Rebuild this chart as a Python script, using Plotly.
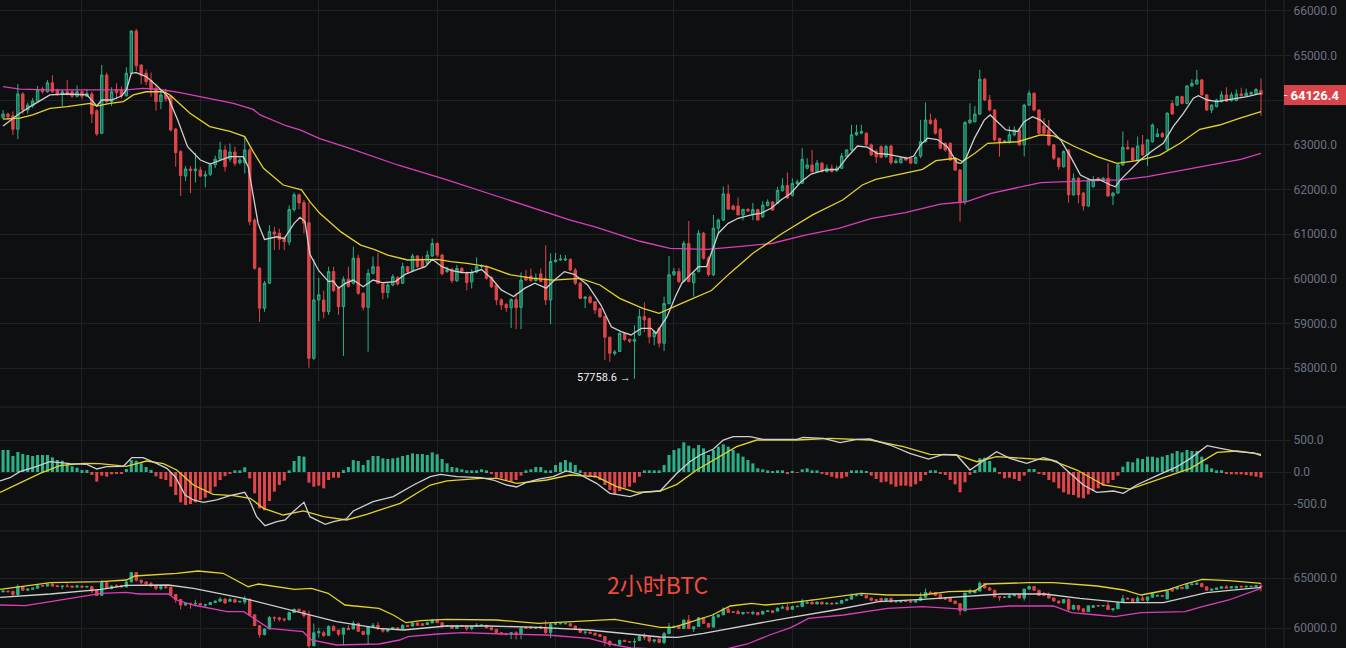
import plotly.graph_objects as go

# ---------------- data (2h BTC candles) ----------------
opens = [63610,63690,63650,63350,64140,63780,63880,63980,64250,64190,64390,64230,64140,64190,64190,64090,64190,64090,64140,63765,
 63260,64565,63970,64230,64230,64100,64605,65550,64790,64605,64440,64265,63970,64120,64095,63355,62850,62300,62460,62420,
 62435,62300,62340,62550,62680,62885,62680,62840,62600,62600,62885,61315,60235,59340,59900,61050,61020,60910,60825,61550,
 61880,61704,61254,58217,59525,59525,59262,60160,59790,59375,59985,59900,60460,59675,59360,60120,60270,59880,59690,59860,
 60020,59900,60270,60190,60510,60420,60345,60510,60790,60530,60160,60210,59955,60230,60140,59930,60150,60270,60270,60030,
 59860,59530,59420,59350,59530,59360,60040,60060,59960,60110,60010,59525,60385,60420,60420,60430,60195,59900,59560,59590,
 59485,59330,59150,58690,58330,58370,58775,58640,58600,58740,59150,59110,58700,58890,58555,59445,60090,60160,59940,60790,
 59910,60160,61020,60460,60090,61130,61315,61900,61630,61630,61430,61555,61440,61550,61390,61640,61720,61690,61975,62090,
 61870,62130,62140,62475,62550,62400,62590,62400,62480,62420,62475,62735,62885,63225,63260,63260,63000,62850,62960,62735,
 62975,62600,62600,62700,62700,62590,62750,63070,63555,63555,63350,63035,63035,62700,62435,61725,63495,63520,63690,64470,
 64005,63780,63145,63070,63050,63225,63335,63000,63890,64155,63780,63420,63335,63000,62700,62510,62885,61880,62250,61920,
 61630,62065,62250,62200,62250,61855,61920,62550,62945,62925,62660,63000,62775,63070,63185,63250,62905,63930,63890,64080,
 63930,64320,64365,64455,64120,63780,63855,63970,64120,63990,63995,64140,64100,64140,64150,64215]
highs = [63780,63720,63750,64360,64180,63950,64050,64320,64300,64450,64560,64260,64230,64450,64230,64330,64220,64250,64190,63800,
 64790,64620,64290,64380,64310,64740,65570,65600,64800,64690,64620,64330,64230,64260,64110,63380,62880,62530,62520,62820,
 62500,62420,62600,62760,63070,62990,63030,62960,62720,63185,62930,61350,60260,59950,61200,61165,61120,60950,61640,61930,
 61910,61765,61727,60442,60020,59735,60270,60270,59830,60050,60270,60720,60540,59700,60220,60500,60580,59900,59900,60100,
 60060,60360,60290,60560,60530,60500,60630,60905,60820,60560,60270,60240,60310,60260,60160,60210,60480,60320,60300,60060,
 59880,59560,59460,59560,59680,60140,60200,60230,60120,60230,60750,60570,60580,60540,60530,60460,60240,59920,59610,59630,
 59500,59350,59170,58700,58400,58800,58800,58660,58960,59320,59470,59130,58850,58920,59600,60510,60240,60240,60850,61295,
 60160,61090,61050,60500,61430,61350,62065,62110,61660,61820,61560,61580,61700,61570,61740,61780,61740,62060,62250,62380,
 62250,62220,62925,62700,62885,62660,62620,62560,62560,62540,62820,62900,63450,63450,63450,63280,63030,62900,62990,63000,
 63000,62700,62740,62740,62720,62760,63560,63950,63700,63600,63380,63050,63060,62720,62460,63530,63930,63870,64680,64500,
 64120,63800,63160,63110,63420,63410,63380,63920,64220,64180,63800,63600,63560,63020,62720,62880,62900,62360,62280,61950,
 62250,62300,62280,62280,62590,61950,62580,63300,63100,62950,63185,63220,63130,63480,63370,63290,63730,64000,64100,64100,
 64340,64470,64680,64480,64140,63910,64030,64200,64290,64180,64240,64280,64260,64200,64270,64490]
lows = [63580,63560,63220,63130,63690,63700,63830,63960,64150,64170,64170,64100,63870,64110,64050,64060,64020,64070,63490,63205,
 63240,63920,63870,64020,64040,64080,64580,64650,64365,64340,64080,63765,63800,63970,63300,62510,61855,62190,61920,62160,
 62280,62050,62300,62480,62650,62400,62620,62520,62560,62360,61200,60200,59035,59260,59880,60645,60650,60640,60750,61500,
 61560,61020,58006,58180,59050,59110,59190,59700,59190,58270,59800,59870,59640,59290,58365,60100,59880,59540,59560,59830,
 59850,59880,60130,60170,60240,60250,60320,60490,60480,60080,60130,59900,59930,60120,59740,59780,60120,60230,59980,59790,
 59410,59300,59260,58895,58870,58870,59950,59930,59940,59920,59410,58980,60360,60400,60400,60170,59860,59540,59340,59440,
 59210,59120,58180,58140,58280,58360,58600,58560,57758.6,58720,58800,58550,58510,58460,58380,59420,60060,59900,59920,59920,
 59600,60140,60430,60050,60060,61000,61290,61540,61530,61420,61310,61490,61310,61310,61360,61620,61520,61670,61950,61790,
 61840,62100,62120,62450,62380,62370,62380,62380,62380,62390,62460,62730,62870,63200,63240,62980,62750,62590,62700,62710,
 62560,62580,62580,62640,62570,62570,62700,63050,63450,63230,62900,62850,62640,62410,61280,61660,63470,63500,63670,63980,
 63750,63080,62735,63040,63030,63190,62970,62740,63870,63750,63230,63220,62970,62660,62440,62490,61705,61860,61690,61530,
 61610,62040,62180,62180,61830,61650,61900,62530,62890,62640,62640,62750,62525,63050,63170,63160,62880,63680,63870,63910,
 63910,64300,64350,64100,63760,63710,63840,63950,63960,63970,63980,64080,64090,64120,64130,63650]
closes = [63690,63630,63350,64140,63780,63890,63980,64230,64190,64390,64190,64140,64190,64140,64090,64190,64090,64150,63690,63245,
 64565,63970,64190,64170,64100,64605,65550,64770,64565,64415,64245,63970,64120,64030,63335,62825,62310,62460,62420,62460,
 62300,62330,62550,62680,62885,62510,62840,62585,62660,62885,61280,60235,59340,59900,61055,61000,60880,60830,61550,61880,
 61700,61242,58217,59525,59640,59262,60160,59735,59375,59985,59830,60460,59675,59360,60120,60270,59900,59690,59860,60045,
 59880,60270,60160,60510,60270,60270,60530,60790,60530,60110,60200,59955,60230,60160,59915,60150,60270,60300,60010,59820,
 59525,59410,59350,59530,59350,59970,59970,59960,60020,59940,59525,60385,60420,60440,60440,60195,59900,59560,59590,59470,
 59300,59150,58690,58330,58360,58775,58640,58600,58640,59150,59080,58700,58810,58555,59445,60090,60160,59940,60790,59940,
 60120,61020,60460,60090,61130,61315,61900,61560,61555,61430,61555,61520,61550,61315,61650,61720,61540,61975,62080,61815,
 62135,62170,62675,62550,62400,62590,62400,62480,62400,62480,62750,62885,63225,63280,63300,63000,62775,62735,62720,62960,
 62600,62640,62700,62660,62590,62720,63070,63555,63480,63260,62925,62885,62660,62435,61725,63500,63555,63690,64470,64005,
 63780,63110,63070,63080,63225,63335,63000,63890,64155,63780,63260,63260,63000,62700,62510,62850,61880,62250,61880,61630,
 62215,62215,62200,62250,61855,61920,62550,62945,62910,62660,62975,62775,63110,63445,63245,63180,63710,63690,64080,63930,
 64320,64380,64455,64120,63780,63890,64005,64120,63980,64120,64140,64100,64160,64170,64240,64126.4]
candle_idx = list(range(len(closes)))

# moving averages on the price panel (candle index, value)
ma_fast_x = [0,2,3.4,6,9.5,13,17,19,20,22,24,25,26,27,29,31,33.4,35.4,37.4,40,42,46,48.7,49.7,50.7,51.7,53,55.5,57,59,60.2,61.2,62.2,64,66,
 66.9,68,69.5,71,73,75,77,79.5,81.6,83.6,85.6,87,89,91,93,95,97,99,101,103.5,105.8,107.8,110.1,111.8,113.8,115.8,118.5,121.2,123.3,125.3,
 127.3,129.4,131.4,132.4,133.4,134.6,136.3,137.6,139.6,141,142.6,145,147,149,151.7,153.7,155.7,157.7,159.7,161.8,163.8,166.5,169.2,171.2,
 173.2,175.2,177.2,179.2,181.2,183.3,184.6,186,187.4,189.4,191.4,193.4,194.2,195.2,196.9,198.9,200.1,201.6,203.3,205.7,207,208.7,210.3,
 212.4,214.4,216.4,218.4,220.4,222.4,224.5,225.5,226.5,228.5,230.5,233.2,235.2,237.2,239.3,241.3,242.3,244.1,246.1,248.8,252.2,255]
ma_fast_y = [63423,63580,63710,63890,64120,64140,64120,63870,64005,64005,64095,64230,64605,64620,64530,64340,64080,63555,62960,62660,62570,
 62735,62735,62510,61905,61240,60880,60940,60900,61240,61375,61280,60550,60180,59935,59950,59790,59900,59970,59820,59970,59910,59935,
 60105,60195,60270,60435,60270,60180,60140,60135,60205,60010,59750,59600,59790,59900,59790,59970,60160,60100,59860,59410,58925,58815,
 58740,58890,58890,58775,58950,59150,59600,59900,60120,60270,60270,61020,61240,61355,61430,61470,61580,61765,61915,62175,62345,62435,
 62450,62735,62975,62950,62810,62790,62750,62700,62750,63000,63150,63120,62960,62600,62585,62700,63145,63555,63670,63520,63335,63300,
 63520,63630,63555,63335,63110,62735,62325,62215,62215,62100,62060,62215,62435,62660,62885,63035,63410,63710,64045,64100,64005,63970,
 64020,64080,64155]
ma_mid_x = [0,3.4,6,9.5,13,17.6,19,21.7,24.4,26.4,29,32.5,33.8,37.9,41.9,46,49,50.7,52.8,56.8,60.5,62.2,64.2,66,68.5,72.5,75.2,78,82,88,
 90.8,94.1,98.2,102.9,107.6,111.6,117,121,125,129.7,133,137.9,140.9,143.6,147.3,152,158,164.1,170.2,174.2,176.9,183.7,186.4,189.1,
 193.1,194.5,197,199.6,205.7,210.3,213,217,221.8,225.8,230.5,234.5,238.6,242.6,246.6,250.6,255]
ma_mid_y = [63575,63600,63670,63820,63855,63930,63870,63930,63970,64120,64190,64190,64120,63710,63410,63300,63185,62850,62475,62100,
 61990,61727,61465,61300,61050,60755,60660,60530,60420,60435,60385,60345,60270,60085,60010,59970,60010,59860,59560,59335,59225,59465,
 59600,59735,60120,60570,61020,61430,61765,62100,62225,62375,62450,62645,62700,62625,62810,63035,63070,63225,63200,62975,62735,62585,
 62660,62770,63035,63350,63445,63595,63745]
ma_slow_x = [0,3.4,9.5,15.6,25,28.4,31.8,35.9,40,43.3,46.7,50.7,52.1,57.5,60.2,64.2,70,80,90,100,110,115,120,127,129.1,135.2,142.7,
 149.1,155.8,162.6,169.4,176.1,182.9,190,195.2,200.3,210.4,220.5,226.6,232,237.4,244.1,250.9,255]
ma_slow_y = [64305,64250,64230,64230,64230,64265,64240,64170,64080,64005,63930,63795,63670,63423,63335,63140,62930,62549,62213,61854,
 61496,61316,61160,60913,60840,60680,60660,60720,60790,60980,61130,61355,61480,61670,61725,61915,62155,62200,62215,62290,62400,62550,
 62675,62810]

# MACD panel
dif_x = [-0.6,1.4,3.4,6.1,9.5,13.6,17,19,21,24.4,26.1,28.4,31.1,33.2,34.9,36.9,38.6,40.6,43.3,46,49,50.1,51.4,53.1,55.5,57.2,58.8,61,
 62.2,65.3,67,69.6,71,75,79.1,83.2,86.6,88.7,92,96.8,99.4,102.1,104.1,106.1,108.8,111.5,114.2,116.9,120.3,123,127.1,129.8,133.2,136.6,
 139.2,141.3,144,146,148,151.4,154.1,160.9,162.2,166.3,169.7,173.1,175.7,179.8,183.8,187.6,190.6,193.3,196,198.7,201.4,204.1,207.5,
 210.9,213.6,216.3,219,221.7,225.1,227.1,229.8,233.9,238,240.7,244.1,246.8,250.2,253.6,255]
dif_y = [-140,-89,5,68,161,130,120,47,83,89,224,224,135,57,-73,-359,-437,-474,-437,-370,-318,-464,-698,-839,-776,-750,-620,-474,-698,
 -818,-776,-734,-609,-464,-385,-203,-73,-36,-73,-89,-125,-203,-234,-161,-109,-73,16,-36,-177,-333,-385,-318,-297,-20,161,266,359,500,
 552,552,510,510,542,526,458,510,516,422,292,203,276,266,31,172,318,213,135,224,166,-20,-203,-318,-297,-333,-203,-57,83,213,411,370,
 318,300,255]
dea_x = [-0.6,3.4,7.5,11.5,16.3,19.6,25,29.1,32.5,35.2,38.6,42.6,46.7,50.1,52.8,56.8,60.9,65,69.6,73.7,80.5,86.6,90,96.8,100.2,104.1,
 110.2,114.9,120.3,124.4,128.4,133.2,136.6,140.6,144.7,148.7,152.8,160.9,167.7,175.8,182.5,187.9,193.3,197.4,201.4,206.8,212.3,217.7,
 223.1,228.5,233.9,240.7,246.1,250.2,255]
dea_y = [-318,-177,-20,99,135,130,89,172,130,31,-203,-349,-370,-411,-568,-672,-609,-698,-750,-661,-489,-203,-140,-99,-99,-177,-125,-47,
 -73,-229,-318,-297,-193,31,213,396,500,500,526,500,396,276,266,161,240,213,188,31,-203,-266,-125,57,307,328,276]
macd_hist = [344,344,250,312,281,266,250,266,266,266,229,187,177,135,89,68,31,31,-47,-151,-57,-73,-36,-21,-21,47,187,177,135,78,31,-68,
 -109,-125,-229,-359,-474,-516,-500,-474,-437,-401,-318,-229,-125,-63,-31,26,26,73,-99,-333,-568,-599,-453,-307,-203,-135,26,172,250,
 240,-167,-229,-214,-255,-125,-89,-89,31,78,187,172,109,187,250,250,214,203,214,224,250,266,292,281,281,266,307,276,203,135,78,68,42,
 26,26,26,42,26,-31,-89,-99,-125,-151,-125,-57,26,42,78,78,26,26,109,151,187,151,109,26,-47,-73,-89,-125,-203,-281,-349,-297,-245,
 -229,-167,-73,26,26,26,26,109,266,344,370,464,411,370,422,370,266,344,396,432,396,344,292,240,187,135,57,42,26,16,26,26,-21,16,-10,
 42,57,26,26,-26,-47,-73,-99,-99,-73,26,26,26,16,-57,-109,-161,-151,-193,-229,-214,-214,-229,-193,-141,-47,26,26,-21,-47,-125,-193,
 -318,-161,-47,31,214,224,172,68,-21,-99,-89,-109,-141,-57,47,47,-21,-47,-125,-161,-255,-318,-349,-359,-401,-411,-349,-297,-255,-214,
 -177,-125,-57,83,161,151,214,203,240,240,224,240,266,292,328,307,344,328,328,240,120,57,26,26,-21,-36,-36,-36,-47,-57,-73,-89]

# Bollinger bands on the lower panel
boll_up_x = [-0.6,9.6,19.9,25,26.7,35.2,39.5,44.6,49.7,51.8,59.1,62.5,65.9,69.3,76.2,79.1,81.7,84.7,89.8,100,108.6,115.4,124,133.2,
 135.9,138.5,143.8,147.4,151.8,154.5,159.8,165.1,174,179.3,186.4,191.7,197,199.2,207.7,213,216.6,221.8,227.2,230.7,236,239.6,243.1,
 248.5,255]
boll_up_y = [63870,64530,64630,64800,65200,65470,65700,65470,64130,64400,63870,63970,63470,62300,61970,61300,60530,60730,60870,60800,
 60470,60630,60870,60070,60070,60470,61300,62200,62470,62300,62530,62870,63470,63300,63300,63630,63700,64400,64530,64530,64400,64200,
 63800,63300,63800,64400,64870,64730,64470]
boll_mid_x = [-0.6,9.6,19.9,25,33.5,38.6,48.8,59.1,67.6,76.2,81.2,89.8,98.3,108.6,118.8,133.2,136.7,142,150.9,159.8,168.6,177.5,186.4,
 195.3,202.3,211.2,218.3,227.2,235.2,244,255]
boll_mid_y = [63070,63400,63870,64270,64300,63970,62970,61730,60630,59970,59800,60200,60200,60070,59800,59100,59070,59470,60300,61070,
 61800,62630,62870,63200,63400,63400,62970,62530,62530,63530,64070]
boll_low_x = [-0.6,4.5,9.6,19.9,25,27.5,33.5,35.2,38.6,45.4,48.8,52.2,53.9,60.8,62.5,67.6,76.2,80.4,82.1,88.1,93.2,101.6,110.3,118.8,124,
 127.3,133.2,146.5,150.9,155.4,159.8,163.3,170.4,179.3,186.4,195.3,204.1,212.9,216.6,221.8,225.4,230.7,239.6,243.1,248.5,255]
boll_low_y = [62300,62230,62630,63470,63570,63400,63400,62800,62300,61630,61630,60470,59970,59630,58800,58300,58400,58800,59130,59400,
 59530,59400,59300,58970,58300,58000,57900,57900,58400,59300,60070,60970,61300,61970,62130,61870,62200,62200,61530,61300,61130,61530,
 61630,62130,62800,63970]

price_ticks = [58000, 59000, 60000, 61000, 62000, 63000, 64000, 65000, 66000]
macd_ticks = [-500, 0, 500]
boll_ticks = [60000, 65000]
last_price = 64126.4
low_price = 57758.6
low_idx = 128
watermark = "2小时BTC"

# ---------------- styling ----------------
BG = "#0e0f11"
GRID = "#1f2125"
GREEN = "#2bb089"
GREEN_FILL = "#1d6e57"
RED = "#de4648"
WHITE_MA = "#cfcfcf"
YELLOW = "#e3d12c"
MAGENTA = "#d93fb8"
TICK = "#687282"
FONT = "Roboto"

fig = go.Figure()

fig.add_trace(go.Candlestick(
    x=candle_idx, open=opens, high=highs, low=lows, close=closes,
    increasing=dict(line=dict(color=GREEN, width=1), fillcolor=GREEN_FILL),
    decreasing=dict(line=dict(color=RED, width=1), fillcolor=RED),
    whiskerwidth=0, hoverinfo="skip", xaxis="x", yaxis="y", showlegend=False))

for xs, ys, col in [(ma_slow_x, ma_slow_y, MAGENTA), (ma_mid_x, ma_mid_y, YELLOW), (ma_fast_x, ma_fast_y, WHITE_MA)]:
    fig.add_trace(go.Scatter(x=xs, y=ys, mode="lines", line=dict(color=col, width=1.3),
                             hoverinfo="skip", xaxis="x", yaxis="y", showlegend=False))

# MACD
bar_colors = [GREEN if v >= 0 else RED for v in macd_hist]
fig.add_trace(go.Bar(x=candle_idx, y=macd_hist, marker=dict(color=bar_colors, line=dict(width=0)),
                     hoverinfo="skip", xaxis="x", yaxis="y2", showlegend=False))
fig.add_trace(go.Scatter(x=dea_x, y=dea_y, mode="lines", line=dict(color=YELLOW, width=1.3),
                         hoverinfo="skip", xaxis="x", yaxis="y2", showlegend=False))
fig.add_trace(go.Scatter(x=dif_x, y=dif_y, mode="lines", line=dict(color=WHITE_MA, width=1.3),
                         hoverinfo="skip", xaxis="x", yaxis="y2", showlegend=False))

# lower panel
fig.add_trace(go.Candlestick(
    x=candle_idx, open=opens, high=highs, low=lows, close=closes,
    increasing=dict(line=dict(color=GREEN, width=1), fillcolor=GREEN),
    decreasing=dict(line=dict(color=RED, width=1), fillcolor=RED),
    whiskerwidth=0, hoverinfo="skip", xaxis="x", yaxis="y3", showlegend=False))
for xs, ys, col in [(boll_low_x, boll_low_y, MAGENTA), (boll_mid_x, boll_mid_y, WHITE_MA), (boll_up_x, boll_up_y, YELLOW)]:
    fig.add_trace(go.Scatter(x=xs, y=ys, mode="lines", line=dict(color=col, width=1.3),
                             hoverinfo="skip", xaxis="x", yaxis="y3", showlegend=False))

W, H = 1346, 648
PLOT_W = 1284
px = 4.933
x0 = -0.62
x1 = x0 + PLOT_W / px

d_main = [1 - 407 / H, 1]
d_macd = [1 - 531 / H, 1 - 407 / H]
d_low = [0, 1 - 531 / H]

yax_common = dict(side="right", anchor="x", showgrid=True, gridcolor=GRID, gridwidth=1, zeroline=False,
                  ticks="outside", ticklen=6, tickcolor=GRID,
                  tickfont=dict(family=FONT, size=12, color=TICK), showline=False, fixedrange=True,
                  automargin=False)

def labels(vals, hidden=()):
    return ["" if v in hidden else "%.1f" % v for v in vals]

fig.update_layout(
    width=W, height=H, autosize=False,
    margin=dict(l=0, r=W - PLOT_W, t=0, b=0, autoexpand=False),
    paper_bgcolor=BG, plot_bgcolor=BG,
    bargap=0.38, showlegend=False, hovermode=False,
    xaxis=dict(domain=[0, 1], range=[x0, x1], showgrid=True, gridcolor=GRID, gridwidth=1,
               tickvals=[16 + 24 * k for k in range(11)], showticklabels=False, ticks="",
               zeroline=False, rangeslider=dict(visible=False), fixedrange=True),
    # the 64000 label sits under the last-price tag, as in the reference
    yaxis=dict(domain=d_main, range=[57126, 66246], tickvals=price_ticks,
               ticktext=labels(price_ticks, hidden=(64000,)), **yax_common),
    yaxis2=dict(domain=d_macd, range=[-922, 1016], tickvals=macd_ticks, ticktext=labels(macd_ticks), **yax_common),
    yaxis3=dict(domain=d_low, range=[58000, 69700], tickvals=boll_ticks, ticktext=labels(boll_ticks), **yax_common),
)

# panel separators and right border
shapes = []
for yy in [d_main[0], d_macd[0]]:
    shapes.append(dict(type="line", xref="paper", yref="paper", x0=0, x1=W / PLOT_W, y0=yy, y1=yy,
                       line=dict(color="#26282d", width=1)))
shapes.append(dict(type="line", xref="paper", yref="paper", x0=1, x1=1, y0=0, y1=1,
                   line=dict(color="#26282d", width=1)))
fig.update_layout(shapes=shapes)

annotations = [
    dict(x=1, xref="paper", y=last_price, yref="y", xanchor="left", yanchor="middle",
         text="<b>%.1f</b>" % last_price, showarrow=False, align="center",
         font=dict(family=FONT, size=13, color="#ffffff"),
         bgcolor="#d9434a", borderwidth=0, borderpad=2, width=58, height=16),
    dict(x=1, xref="paper", y=last_price, yref="y", xanchor="left", yanchor="middle", xshift=-2,
         text="-", showarrow=False, font=dict(family=FONT, size=12, color="#ffffff")),
    dict(x=low_idx, xref="x", y=low_price, yref="y", xanchor="right", yanchor="middle", xshift=-1, yshift=1,
         text="%.1f →" % low_price, showarrow=False, font=dict(family=FONT, size=11, color="#f0f0f0")),
    dict(x=0.512, xref="paper", y=1 - 584 / H, yref="paper", yanchor="middle", showarrow=False,
         text=watermark, font=dict(family="Noto Sans CJK SC", size=23, color="#ee4a3e")),
]
fig.update_layout(annotations=annotations)

fig.write_html("out.html", config={"displayModeBar": False},
               post_script="document.body.style.margin='0';document.body.style.padding='0';")
